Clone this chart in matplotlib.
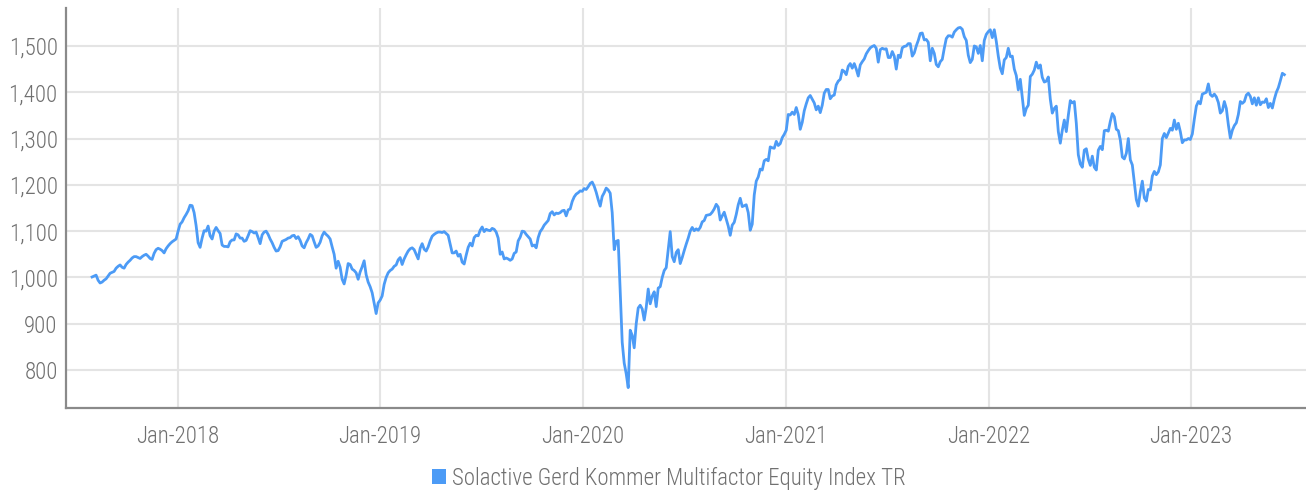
import matplotlib
matplotlib.use("Agg")
import matplotlib.pyplot as plt
import matplotlib.dates as mdates
from matplotlib.patches import Patch
from matplotlib.ticker import FuncFormatter
import pandas as pd

series_name = "Solactive Gerd Kommer Multifactor Equity Index TR"
start_date = "2017-07-31"
end_date = "2023-06-18"

# Index values (regular spacing, ~3.6 days)
part1 = [1001, 1003, 1005, 994, 988, 990, 994, 997, 1003, 1009, 1011, 1013, 1020, 1024, 1027, 1022,
         1020, 1028, 1033, 1037, 1042, 1045, 1045, 1043, 1041, 1045, 1048, 1050, 1046, 1041, 1039, 1052,
         1060, 1063, 1061, 1058, 1053, 1062, 1068, 1073, 1077, 1080, 1083, 1100, 1115, 1120, 1129, 1136,
         1144, 1156, 1155, 1140, 1112, 1075, 1065, 1085, 1101, 1100, 1111, 1090, 1083, 1100, 1108, 1101,
         1095, 1070, 1067, 1067, 1066, 1077, 1081, 1081, 1094, 1092, 1085, 1085, 1078, 1080, 1090, 1101,
         1099, 1096, 1098, 1086, 1073, 1092, 1098, 1100, 1093, 1083, 1075, 1065, 1057, 1058, 1066, 1078,
         1080, 1082, 1085]
part2 = [1086, 1090, 1091, 1084, 1088, 1080, 1068, 1064, 1075, 1083, 1093, 1090, 1077, 1065, 1068, 1076,
         1090, 1098, 1093, 1089, 1083, 1066, 1050, 1020, 1035, 1022, 996, 986, 1005, 1030, 1028, 1018,
         1015, 1010, 996, 1012, 1023, 1036, 1006, 990, 980, 967, 944, 922, 945, 951, 960, 985,
         1000, 1010, 1015, 1018, 1024, 1027, 1038, 1043, 1028, 1040, 1049, 1057, 1062, 1064, 1060, 1050,
         1040, 1063, 1073, 1061, 1057, 1066, 1079, 1089, 1093, 1096, 1098, 1098, 1097, 1099, 1095, 1091,
         1072, 1053, 1053, 1057, 1046, 1050, 1033, 1029, 1048, 1065, 1074, 1068, 1086, 1091, 1090, 1102,
         1109, 1099, 1104, 1102]
part3 = [1101, 1106, 1104, 1098, 1085, 1050, 1055, 1040, 1042, 1040, 1037, 1040, 1052, 1055, 1079, 1087,
         1100, 1099, 1093, 1088, 1083, 1068, 1070, 1064, 1086, 1099, 1105, 1113, 1118, 1123, 1138, 1142,
         1135, 1139, 1138, 1140, 1144, 1145, 1133, 1146, 1148, 1164, 1174, 1180, 1183, 1187, 1186, 1192,
         1190, 1196, 1203, 1206, 1197, 1184, 1168, 1154, 1175, 1183, 1193, 1189, 1182, 1140, 1060, 1078,
         1080, 969, 860, 815, 792, 762, 886, 875, 848, 900, 934, 940, 932, 908, 935, 975,
         943, 960, 969, 937, 977, 980, 1000, 1015, 1021, 1060, 1099, 1045, 1034, 1054, 1060, 1030,
         1043, 1058, 1072, 1085]
part4 = [1100, 1108, 1101, 1105, 1102, 1108, 1120, 1123, 1134, 1135, 1136, 1141, 1148, 1158, 1152, 1124,
         1133, 1141, 1126, 1111, 1091, 1113, 1119, 1136, 1157, 1171, 1153, 1155, 1157, 1140, 1102, 1115,
         1178, 1208, 1217, 1234, 1232, 1252, 1255, 1252, 1282, 1280, 1279, 1294, 1285, 1289, 1302, 1309,
         1318, 1352, 1351, 1357, 1352, 1367, 1352, 1320, 1335, 1360, 1375, 1388, 1393, 1385, 1377, 1362,
         1370, 1356, 1372, 1398, 1406, 1406, 1386, 1392, 1394, 1416, 1424, 1428, 1448, 1445, 1438, 1456,
         1462, 1452, 1462, 1450, 1435, 1459, 1466, 1472, 1483, 1490, 1496, 1499, 1501, 1495, 1465, 1492,
         1495, 1493, 1494, 1475]
part5 = [1475, 1488, 1478, 1450, 1480, 1475, 1496, 1499, 1500, 1505, 1505, 1478, 1485, 1500, 1512, 1527,
         1528, 1513, 1514, 1508, 1468, 1495, 1484, 1460, 1455, 1466, 1471, 1495, 1516, 1522, 1522, 1519,
         1530, 1535, 1539, 1540, 1536, 1520, 1512, 1480, 1464, 1471, 1500, 1498, 1484, 1501, 1468, 1512,
         1525, 1531, 1535, 1518, 1535, 1510, 1478, 1452, 1440, 1470, 1475, 1495, 1477, 1478, 1450, 1436,
         1405, 1428, 1390, 1350, 1365, 1372, 1434, 1439, 1448, 1465, 1452, 1459, 1432, 1422, 1424, 1433,
         1385, 1355, 1365, 1370, 1315, 1290, 1318, 1340, 1315, 1350, 1382, 1377, 1380, 1333, 1265, 1245,
         1238, 1275, 1278, 1255]
part6 = [1242, 1262, 1238, 1232, 1275, 1283, 1276, 1317, 1318, 1316, 1337, 1354, 1347, 1320, 1317, 1297,
         1260, 1256, 1268, 1300, 1254, 1243, 1205, 1168, 1154, 1185, 1208, 1172, 1165, 1190, 1189, 1219,
         1229, 1222, 1228, 1243, 1300, 1311, 1302, 1312, 1322, 1318, 1340, 1320, 1333, 1315, 1291, 1297,
         1297, 1300, 1298, 1310, 1342, 1370, 1380, 1375, 1396, 1398, 1400, 1418, 1395, 1391, 1396, 1390,
         1378, 1355, 1360, 1380, 1365, 1330, 1301, 1318, 1328, 1334, 1352, 1380, 1376, 1380, 1394, 1398,
         1391, 1375, 1388, 1372, 1388, 1373, 1379, 1378, 1386, 1367, 1376, 1366, 1385, 1400, 1410, 1425,
         1441, 1438]

values = part1 + part2 + part3 + part4 + part5 + part6
dates = pd.date_range(start_date, end_date, periods=len(values))

y_ticks = [800, 900, 1000, 1100, 1200, 1300, 1400, 1500]
x_tick_years = [2018, 2019, 2020, 2021, 2022, 2023]

line_color = "#4c9bf6"
text_color = "#707070"
grid_color = "#e4e4e4"
spine_color = "#8a8a8a"
font_family = ["Roboto Condensed", "Liberation Sans Narrow", "DejaVu Sans"]

plt.rcParams["font.family"] = font_family
plt.rcParams["font.weight"] = "light"

fig = plt.figure(figsize=(13.06, 4.93), dpi=100)
ax = fig.add_axes([66 / 1306, 1 - 408 / 493, 1 - 66 / 1306, 400 / 493])

ax.plot(dates, values, color=line_color, linewidth=2.0, solid_joinstyle="round", zorder=3)

ax.set_xlim(pd.Timestamp("2017-06-14"), pd.Timestamp("2023-07-27"))
ax.set_ylim(718, 1582)

ax.set_yticks(y_ticks)
ax.yaxis.set_major_formatter(FuncFormatter(lambda v, p: f"{int(v):,}"))
ax.set_xticks([pd.Timestamp(f"{y}-01-01") for y in x_tick_years])
ax.xaxis.set_major_formatter(mdates.DateFormatter("%b-%Y"))

ax.grid(True, color=grid_color, linewidth=1.5, zorder=0)
ax.set_axisbelow(True)
ax.tick_params(axis="both", length=0, labelsize=16.5, labelcolor=text_color)
ax.tick_params(axis="x", pad=12)
ax.tick_params(axis="y", pad=6)

for s in ["top", "right"]:
    ax.spines[s].set_visible(False)
for s in ["left", "bottom"]:
    ax.spines[s].set_color(spine_color)
    ax.spines[s].set_linewidth(1.6)

handle = Patch(facecolor=line_color, edgecolor="none")
fig.legend([handle], [series_name], loc="center", bbox_to_anchor=(0.512, 1 - 478 / 493),
           frameon=False, fontsize=16.5, labelcolor=text_color,
           handlelength=0.6, handleheight=0.6, handletextpad=0.25)

fig.savefig("out.png", dpi=100)
